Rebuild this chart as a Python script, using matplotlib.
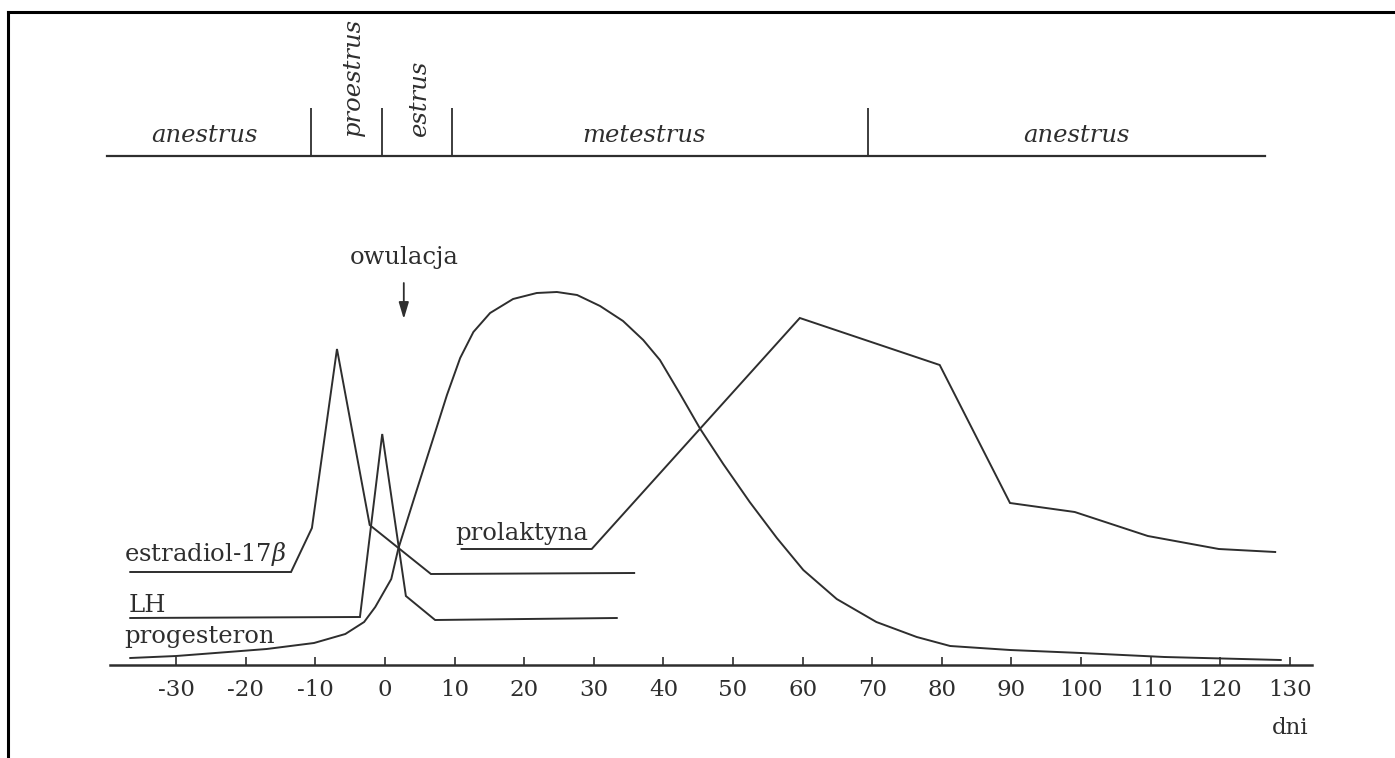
import matplotlib.pyplot as plt
from matplotlib.lines import Line2D

plt.rcParams['font.family'] = ['DejaVu Serif']
plt.rcParams['mathtext.fontset'] = 'dejavuserif'
plt.rcParams['axes.unicode_minus'] = False

ink = '#2e2e2e'

# poziomy hormonow (jednostki umowne) w dniach cyklu
estradiol_dni = [-36.6, -13.5, -10.5, -6.9, -2.2, 6.6, 35.8]
estradiol = [93, 93, 137, 316, 140, 91, 92]

lh_dni = [-36.6, -3.6, -0.4, 3.0, 7.2, 33.3]
lh = [47, 48, 231, 69, 45, 47]

progesteron_dni = [-36.6, -30.0, -24.4, -17.0, -10.2, -5.7, -3.0, -1.4, 0.9, 1.9,
                   4.2, 7.4, 8.9, 10.8, 12.7, 15.1, 18.4, 21.8, 24.7, 27.6,
                   30.9, 34.2, 37.1, 39.5, 42.4, 45.3, 48.6, 52.4, 56.3, 60.1,
                   64.9, 70.6, 76.4, 81.2, 89.8, 100.0, 112.0, 128.7]
progesteron = [7, 9, 12, 16, 22, 31, 43, 58, 86, 116,
               167, 237, 270, 307, 333, 352, 366, 372, 373, 370,
               359, 344, 325, 305, 271, 236, 201, 163, 127, 95,
               66, 43, 28, 19, 15, 12, 8, 5]

prolaktyna_dni = [11.0, 29.7, 59.6, 79.7, 89.8, 99.1, 109.6, 119.8, 127.9]
prolaktyna = [116, 116, 347, 300, 162, 153, 129, 116, 113]

# fazy cyklu
fazy = ['anestrus', 'proestrus', 'estrus', 'metestrus', 'anestrus']
granice_faz = [-39.9, -10.6, -0.4, 9.6, 69.4, 126.4]
srodki_faz = [-25.9, -4.6, 5.0, 37.2, 99.3]
pionowo = [False, True, True, False, False]

owulacja_dzien = 2.7
dni_ticks = list(range(-30, 131, 10))

fig = plt.figure(figsize=(13.95, 7.58), dpi=100)
ax = fig.add_axes([0, 0, 1, 1])
ax.set_xlim(-385 / 6.96, 1010 / 6.96)
ax.set_ylim(-93, 665)

for dni, val in [(estradiol_dni, estradiol), (lh_dni, lh),
                 (progesteron_dni, progesteron), (prolaktyna_dni, prolaktyna)]:
    ax.plot(dni, val, color=ink, lw=1.4, solid_joinstyle='miter')

# os dni
for s in ['left', 'top', 'right']:
    ax.spines[s].set_visible(False)
ax.spines['bottom'].set_position(('data', 0))
ax.spines['bottom'].set_bounds(-39.5, 133.2)
ax.spines['bottom'].set_color(ink)
ax.spines['bottom'].set_linewidth(1.8)
ax.set_yticks([])
ax.set_xticks(dni_ticks)
ax.tick_params(axis='x', direction='in', length=6, width=1.2, color=ink,
               labelsize=16.5, labelcolor=ink, pad=10)

fs = 17.5
ax.text(-37.5, 104, 'estradiol-17$\\beta$', fontsize=fs, color=ink, va='baseline')
ax.text(-36.9, 53, 'LH', fontsize=fs, color=ink, va='baseline')
ax.text(-37.4, 21.5, 'progesteron', fontsize=fs, color=ink, va='baseline')
ax.text(10.1, 125, 'prolaktyna', fontsize=fs, color=ink, va='baseline')
ax.text(130, -69, 'dni', fontsize=16.5, color=ink, ha='center', va='baseline')

# owulacja
ax.text(owulacja_dzien, 401, 'owulacja', fontsize=fs, color=ink,
        ha='center', va='baseline')
ax.annotate('', xy=(owulacja_dzien, 346), xytext=(owulacja_dzien, 382),
            arrowprops=dict(arrowstyle='-|>,head_length=0.5,head_width=0.15',
                            color=ink, lw=1.3, shrinkA=0, shrinkB=0,
                            mutation_scale=20))

# pasek faz
pasek_y = 509
ax.plot([granice_faz[0], granice_faz[-1]], [pasek_y, pasek_y], color=ink, lw=1.6)
ax.vlines(granice_faz[1:-1], pasek_y, pasek_y + 48, color=ink, lw=1.3)
for nazwa, x, pion in zip(fazy, srodki_faz, pionowo):
    if pion:
        ax.text(x, pasek_y + 20, nazwa, fontsize=fs, style='italic', color=ink,
                rotation=90, ha='center', va='bottom')
    else:
        ax.text(x, pasek_y + 14, nazwa, fontsize=fs, style='italic', color=ink,
                ha='center', va='baseline')

# ramka skanu
W, H = 1395, 758
fig.add_artist(Line2D([8 / W, 8 / W], [0, 1 - 12 / H], transform=fig.transFigure,
                      color='black', lw=2.2))
fig.add_artist(Line2D([8 / W, 1], [1 - 12 / H, 1 - 12 / H], transform=fig.transFigure,
                      color='black', lw=2.2))

fig.savefig('out.png', dpi=100, facecolor='white')
